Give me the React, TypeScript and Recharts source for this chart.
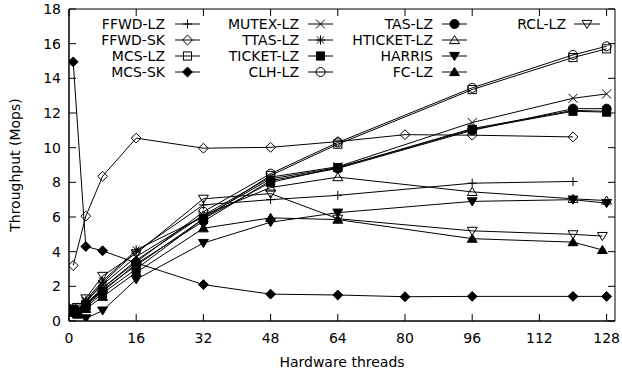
import { LineChart, Line, XAxis, YAxis, ReferenceArea, Legend } from 'recharts'

const W = 622
const H = 375
const PLOT = { left: 69, right: 615, top: 9, bottom: 321 }
const FONT = "'DejaVu Sans', sans-serif"
const INK = '#000'
const TICK_LEN = 7

// thread counts used by the different runs
const THREADS_LZ = [1, 2, 4, 8, 16, 32, 48, 64, 96, 120, 128]
const THREADS_DELEG = [1, 2, 4, 8, 16, 32, 48, 64, 96, 120, 127]
const THREADS_FFWD_LZ = [2, 4, 8, 16, 32, 48, 64, 96, 120]
const THREADS_FFWD_SK = [1, 4, 8, 16, 32, 48, 64, 80, 96, 120]
const THREADS_MCS_SK = [1, 4, 8, 16, 32, 48, 64, 80, 96, 120, 128]

// throughput, Mops
const FFWD_LZ = [0.5, 1.1, 2.2, 4.0, 6.7, 7.0, 7.25, 7.95, 8.05]
const FFWD_SK = [3.2, 6.05, 8.35, 10.55, 9.97, 10.02, 10.35, 10.75, 10.72, 10.62]
const MCS_LZ = [0.6, 0.5, 0.9, 1.8, 3.2, 5.9, 8.4, 10.2, 13.35, 15.2, 15.7]
const MCS_SK = [14.95, 4.3, 4.05, 3.35, 2.1, 1.55, 1.5, 1.4, 1.42, 1.42, 1.42]
const MUTEX_LZ = [0.8, 0.6, 1.1, 2.1, 3.7, 6.1, 8.3, 8.9, 11.45, 12.85, 13.1]
const TTAS_LZ = [0.7, 0.5, 1.2, 2.3, 4.1, 6.0, 8.2, 8.85, 11.1, 12.15, 12.1]
const TICKET_LZ = [0.5, 0.4, 0.8, 1.6, 3.0, 5.9, 8.0, 8.85, 11.05, 12.1, 12.05]
const CLH_LZ = [0.6, 0.5, 1.0, 1.9, 3.4, 6.3, 8.5, 10.3, 13.45, 15.35, 15.85]
const TAS_LZ = [0.6, 0.5, 0.9, 1.7, 3.3, 5.75, 8.1, 8.8, 11.0, 12.25, 12.25]
const HTICKET_LZ = [0.5, 0.4, 0.9, 1.9, 3.5, 6.1, 7.7, 8.3, 7.45, 7.05, 6.95]
const HARRIS = [0.7, 0.6, 0.15, 0.6, 2.4, 4.5, 5.7, 6.25, 6.9, 7.0, 6.8]
const FC_LZ = [0.5, 0.4, 0.7, 1.4, 2.8, 5.35, 5.95, 5.85, 4.75, 4.55, 4.1]
const RCL_LZ = [0.7, 0.8, 1.3, 2.6, 3.9, 7.05, 7.35, 5.9, 5.2, 5.0, 4.9]

const X_TICKS = [0, 16, 32, 48, 64, 80, 96, 112, 128]
const Y_TICKS = [0, 2, 4, 6, 8, 10, 12, 14, 16, 18]

type Shape =
  | 'plus' | 'diamond' | 'square' | 'diamondFill' | 'cross' | 'star'
  | 'squareFill' | 'circle' | 'circleFill' | 'triUp' | 'triDownFill'
  | 'triUpFill' | 'triDown'

interface Series {
  name: string
  shape: Shape
  threads: number[]
  values: number[]
}

const SERIES: Series[] = [
  { name: 'FFWD-LZ', shape: 'plus', threads: THREADS_FFWD_LZ, values: FFWD_LZ },
  { name: 'FFWD-SK', shape: 'diamond', threads: THREADS_FFWD_SK, values: FFWD_SK },
  { name: 'MCS-LZ', shape: 'square', threads: THREADS_LZ, values: MCS_LZ },
  { name: 'MCS-SK', shape: 'diamondFill', threads: THREADS_MCS_SK, values: MCS_SK },
  { name: 'MUTEX-LZ', shape: 'cross', threads: THREADS_LZ, values: MUTEX_LZ },
  { name: 'TTAS-LZ', shape: 'star', threads: THREADS_LZ, values: TTAS_LZ },
  { name: 'TICKET-LZ', shape: 'squareFill', threads: THREADS_LZ, values: TICKET_LZ },
  { name: 'CLH-LZ', shape: 'circle', threads: THREADS_LZ, values: CLH_LZ },
  { name: 'TAS-LZ', shape: 'circleFill', threads: THREADS_LZ, values: TAS_LZ },
  { name: 'HTICKET-LZ', shape: 'triUp', threads: THREADS_LZ, values: HTICKET_LZ },
  { name: 'HARRIS', shape: 'triDownFill', threads: THREADS_LZ, values: HARRIS },
  { name: 'FC-LZ', shape: 'triUpFill', threads: THREADS_DELEG, values: FC_LZ },
  { name: 'RCL-LZ', shape: 'triDown', threads: THREADS_DELEG, values: RCL_LZ },
]

// legend is laid out in columns of four, text right-aligned before the sample
const LEGEND_COLS = [
  { textRight: 165, lineFrom: 175, lineTo: 200 },
  { textRight: 299, lineFrom: 308, lineTo: 333 },
  { textRight: 433, lineFrom: 442, lineTo: 467 },
  { textRight: 566, lineFrom: 574, lineTo: 600 },
]
const LEGEND_ROW0 = 24
const LEGEND_ROW_H = 16

function Marker({ cx, cy, shape }: { cx: number; cy: number; shape: Shape }) {
  const s = 4.5
  const common = { stroke: INK, strokeWidth: 1 }
  switch (shape) {
    case 'plus':
      return <path d={`M${cx - s},${cy}H${cx + s}M${cx},${cy - s}V${cy + s}`} {...common} />
    case 'cross':
      return <path d={`M${cx - s},${cy - s}L${cx + s},${cy + s}M${cx - s},${cy + s}L${cx + s},${cy - s}`} {...common} />
    case 'star':
      return (
        <path
          d={`M${cx - s},${cy}H${cx + s}M${cx},${cy - s}V${cy + s}M${cx - s * 0.8},${cy - s * 0.8}L${cx + s * 0.8},${cy + s * 0.8}M${cx - s * 0.8},${cy + s * 0.8}L${cx + s * 0.8},${cy - s * 0.8}`}
          {...common}
        />
      )
    case 'diamond':
    case 'diamondFill': {
      const d = s * 1.1
      return (
        <path
          d={`M${cx},${cy - d}L${cx + d},${cy}L${cx},${cy + d}L${cx - d},${cy}Z`}
          fill={shape === 'diamondFill' ? INK : 'none'}
          {...common}
        />
      )
    }
    case 'square':
    case 'squareFill': {
      const d = s * 0.9
      return (
        <rect
          x={cx - d}
          y={cy - d}
          width={d * 2}
          height={d * 2}
          fill={shape === 'squareFill' ? INK : 'none'}
          {...common}
        />
      )
    }
    case 'circle':
    case 'circleFill':
      return <circle cx={cx} cy={cy} r={s} fill={shape === 'circleFill' ? INK : 'none'} {...common} />
    case 'triUp':
    case 'triUpFill':
      return (
        <path
          d={`M${cx},${cy - s}L${cx + s * 1.1},${cy + s * 0.8}L${cx - s * 1.1},${cy + s * 0.8}Z`}
          fill={shape === 'triUpFill' ? INK : 'none'}
          {...common}
        />
      )
    case 'triDown':
    case 'triDownFill':
      return (
        <path
          d={`M${cx},${cy + s}L${cx + s * 1.1},${cy - s * 0.8}L${cx - s * 1.1},${cy - s * 0.8}Z`}
          fill={shape === 'triDownFill' ? INK : 'none'}
          {...common}
        />
      )
  }
  return null
}

const textStyle = { fontFamily: FONT, fontSize: 14, fill: INK }

// x ticks point inward, mirrored on the top border
function XTick(props: any) {
  const { x, payload } = props
  return (
    <g>
      <line x1={x} x2={x} y1={PLOT.bottom} y2={PLOT.bottom - TICK_LEN} stroke={INK} />
      <line x1={x} x2={x} y1={PLOT.top} y2={PLOT.top + TICK_LEN} stroke={INK} />
      <text x={x} y={PLOT.bottom + 22} textAnchor="middle" style={textStyle}>
        {payload.value}
      </text>
    </g>
  )
}

// y ticks point inward, mirrored on the right border
function YTick(props: any) {
  const { y, payload } = props
  return (
    <g>
      <line x1={PLOT.left} x2={PLOT.left + TICK_LEN} y1={y} y2={y} stroke={INK} />
      <line x1={PLOT.right} x2={PLOT.right - TICK_LEN} y1={y} y2={y} stroke={INK} />
      <text x={61} y={y + 5} textAnchor="end" style={textStyle}>
        {payload.value}
      </text>
    </g>
  )
}

function LegendBox() {
  return (
    <svg width={W} height={90} style={{ display: 'block' }}>
      {SERIES.map((s, i) => {
        const col = LEGEND_COLS[Math.floor(i / 4)]
        const cy = LEGEND_ROW0 + (i % 4) * LEGEND_ROW_H
        const mid = (col.lineFrom + col.lineTo) / 2
        return (
          <g key={s.name}>
            <text x={col.textRight} y={cy + 5} textAnchor="end" style={textStyle}>
              {s.name}
            </text>
            <line x1={col.lineFrom} x2={col.lineTo} y1={cy} y2={cy} stroke={INK} />
            <Marker cx={mid} cy={cy} shape={s.shape} />
          </g>
        )
      })}
    </svg>
  )
}

export default function App() {
  return (
    <div style={{ position: 'absolute', left: 0, top: 0, width: W, height: H, background: '#fff' }}>
      <LineChart
        width={W}
        height={H}
        margin={{ top: PLOT.top, right: W - PLOT.right, bottom: 0, left: 0 }}
      >
        <ReferenceArea x1={0} x2={130} y1={0} y2={18} fill="none" stroke={INK} strokeWidth={1} />
        <XAxis
          type="number"
          dataKey="x"
          domain={[0, 130]}
          ticks={X_TICKS}
          allowDataOverflow
          height={H - PLOT.bottom}
          axisLine={{ stroke: INK }}
          tickLine={false}
          tick={<XTick />}
          interval={0}
        />
        <YAxis
          type="number"
          domain={[0, 18]}
          ticks={Y_TICKS}
          allowDataOverflow
          width={PLOT.left}
          axisLine={{ stroke: INK }}
          tickLine={false}
          tick={<YTick />}
          interval={0}
        />
        {SERIES.map((s) => (
          <Line
            key={s.name}
            name={s.name}
            data={s.threads.map((t, i) => ({ x: t, y: s.values[i] }))}
            dataKey="y"
            type="linear"
            stroke={INK}
            strokeWidth={1}
            dot={(p: any) => <Marker key={`${s.name}-${p.index}`} cx={p.cx} cy={p.cy} shape={s.shape} />}
            activeDot={false}
            legendType="none"
            isAnimationActive={false}
          />
        ))}
        <Legend
          layout="vertical"
          align="center"
          verticalAlign="middle"
          wrapperStyle={{ left: 0, top: 0, width: W, height: 90, margin: 0 }}
          content={() => <LegendBox />}
        />
        <text x={342} y={367} textAnchor="middle" style={textStyle}>
          Hardware threads
        </text>
        <text x={20} y={165} textAnchor="middle" transform="rotate(-90 20 165)" style={textStyle}>
          Throughput (Mops)
        </text>
      </LineChart>
    </div>
  )
}
